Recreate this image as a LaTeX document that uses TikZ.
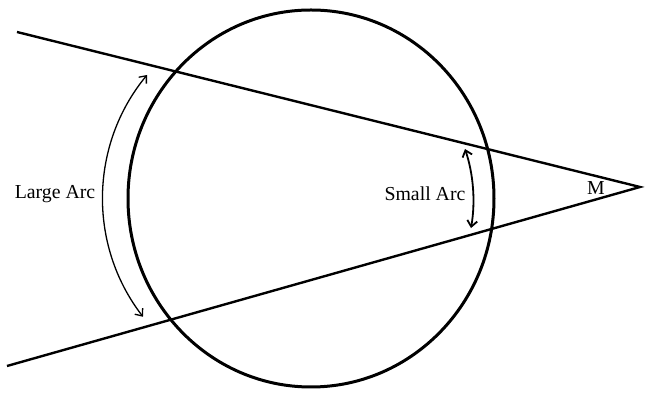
\documentclass[tikz,border=0pt]{standalone}
\usepackage{fontspec}
\setmainfont{Liberation Serif}
\usetikzlibrary{arrows.meta}
\begin{document}
\begin{tikzpicture}[x=1pt,y=1pt,
  mainline/.style={line width=2.4pt},
  rim/.style={line width=3pt},
  arcarrow/.style={{Straight Barb[length=6pt,width=10pt]}-{Straight Barb[length=6pt,width=10pt]}},
  lbl/.style={inner sep=0pt,font=\fontsize{19.8}{22}\selectfont}]
\useasboundingbox (0,0) rectangle (649,393);
% circle
\draw[rim] (311,194.5) ellipse [x radius=183, y radius=188.5];
% lines
\coordinate (apex) at (640,206);
\coordinate (topstart) at (17,361);
\coordinate (botstart) at (7,27);
\draw[mainline, line join=miter] (topstart) -- (apex) -- (botstart);
% arcs
\coordinate (lt) at (147,318);
\coordinate (st) at (465,244);
\draw[line width=1.3pt, arcarrow] (lt) arc[start angle=140.5, end angle=217.6, radius=194];
\draw[line width=1.8pt, arcarrow] (st) arc[start angle=18.4, end angle=-9.7, radius=163.3];
% labels
\node[lbl] (large) at (55,199) {Large Arc};
\node[lbl] (small) at (425,199) {Small Arc};
\node[lbl] (m) at (596,205) {M};
\end{tikzpicture}
\end{document}
